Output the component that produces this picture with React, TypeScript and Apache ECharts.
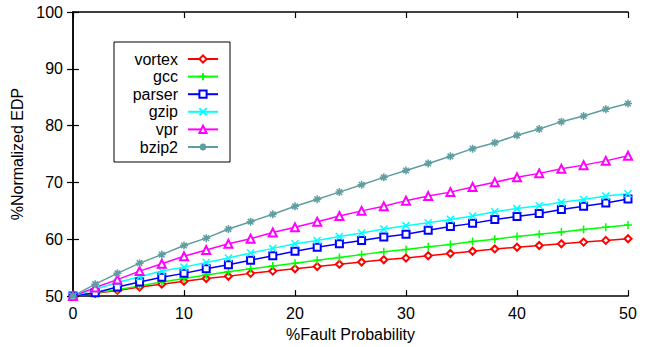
import React, { useEffect, useRef } from "react";
import * as echarts from "echarts";

const xValues = [0, 2, 4, 6, 8, 10, 12, 14, 16, 18, 20, 22, 24, 26, 28, 30, 32, 34, 36, 38, 40, 42, 44, 46, 48, 50];

const vortex = [50, 50.5, 51.0, 51.6, 52.1, 52.6, 53.1, 53.5, 54.0, 54.4, 54.8, 55.2, 55.6, 56.0, 56.4, 56.7, 57.1, 57.5, 57.9, 58.3, 58.6, 58.9, 59.2, 59.5, 59.8, 60.1];
const gcc = [50, 50.6, 51.1, 51.8, 52.5, 53.1, 53.7, 54.3, 54.8, 55.3, 55.8, 56.3, 56.8, 57.3, 57.8, 58.2, 58.7, 59.1, 59.6, 60.0, 60.5, 60.9, 61.3, 61.7, 62.1, 62.5];
const parser = [50, 50.6, 51.6, 52.5, 53.3, 54.0, 54.8, 55.5, 56.3, 57.1, 57.9, 58.6, 59.2, 59.8, 60.4, 60.9, 61.6, 62.25, 62.8, 63.5, 64.0, 64.55, 65.25, 65.8, 66.4, 67.1];
const gzip = [50, 51.2, 52.4, 53.4, 54.4, 55.1, 55.9, 56.7, 57.6, 58.4, 59.2, 59.8, 60.5, 61.1, 61.8, 62.4, 62.9, 63.5, 64.1, 64.85, 65.4, 65.9, 66.5, 67.0, 67.6, 68.0];
const vpr = [50, 51.5, 52.9, 54.4, 55.7, 57.0, 58.1, 59.2, 60.1, 61.2, 62.1, 63.1, 64.1, 65.0, 65.8, 66.8, 67.6, 68.3, 69.2, 70.05, 70.9, 71.6, 72.4, 73.05, 73.8, 74.7];
const bzip2 = [50, 52.1, 54.0, 55.8, 57.3, 58.9, 60.2, 61.8, 63.1, 64.4, 65.8, 67.05, 68.3, 69.6, 70.9, 72.1, 73.35, 74.6, 75.95, 77.0, 78.3, 79.4, 80.7, 81.7, 82.9, 83.9];

const seriesNames = ["vortex", "gcc", "parser", "gzip", "vpr", "bzip2"];
const seriesData = [vortex, gcc, parser, gzip, vpr, bzip2];
const seriesColors = ["#ff0000", "#00ff00", "#0000ff", "#00ffff", "#ff00ff", "#5f9ea0"];
const seriesSymbols = [
  "emptyDiamond",
  "path://M0,5L10,5M5,0L5,10",
  "emptyRect",
  "path://M0,0L10,10M10,0L0,10",
  "emptyTriangle",
  "path://M0,5L10,5M5,0L5,10M1.5,1.5L8.5,8.5M8.5,1.5L1.5,8.5",
];
const seriesSymbolSizes = [7, 8, 7, 7, 8, 8];

const FONT = "Liberation Sans, Arial, sans-serif";

export default function App() {
  const ref = useRef<HTMLDivElement>(null);
  useEffect(() => {
    if (!ref.current) return;
    const chart = echarts.init(ref.current, undefined, { renderer: "svg" });
    const axisLine = { show: true, lineStyle: { color: "#000", width: 1.5 } };
    const axisTick = { show: true, inside: true, length: 6, lineStyle: { color: "#000", width: 1.2 } };
    chart.setOption({
      animation: false,
      backgroundColor: "#fff",
      textStyle: { fontFamily: FONT },
      grid: { left: 73, right: 21, top: 12, bottom: 47, containLabel: false },
      legend: {
        orient: "vertical",
        left: 114,
        top: 42,
        align: "right",
        data: seriesNames,
        borderColor: "#000",
        borderWidth: 1,
        padding: [9, 11, 7, 16],
        itemGap: 1.6,
        itemWidth: 30,
        itemHeight: 9,
        textStyle: {
          fontFamily: FONT,
          fontSize: 16,
          lineHeight: 16,
          color: "#000",
          width: 48,
          align: "right",
          padding: [0, 5, 0, 0],
        },
      },
      xAxis: [
        {
          type: "value",
          min: 0,
          max: 50,
          interval: 10,
          name: "%Fault Probability",
          nameLocation: "middle",
          nameGap: 29,
          nameTextStyle: { fontFamily: FONT, fontSize: 16, color: "#000" },
          axisLine,
          axisTick,
          axisLabel: { fontFamily: FONT, fontSize: 16, color: "#000", margin: 9 },
          splitLine: { show: false },
        },
        {
          type: "value",
          position: "top",
          min: 0,
          max: 50,
          interval: 10,
          axisLine,
          axisTick,
          axisLabel: { show: false },
          splitLine: { show: false },
        },
      ],
      yAxis: [
        {
          type: "value",
          min: 50,
          max: 100,
          interval: 10,
          name: "%Normalized EDP",
          nameLocation: "middle",
          nameGap: 44,
          nameTextStyle: { fontFamily: FONT, fontSize: 16, color: "#000" },
          axisLine,
          axisTick,
          axisLabel: { fontFamily: FONT, fontSize: 16, color: "#000", margin: 10 },
          splitLine: { show: false },
        },
        {
          type: "value",
          position: "right",
          min: 50,
          max: 100,
          interval: 10,
          axisLine,
          axisTick,
          axisLabel: { show: false },
          splitLine: { show: false },
        },
      ],
      series: seriesNames.map((name, i) => ({
        name,
        type: "line",
        xAxisIndex: 0,
        yAxisIndex: 0,
        data: xValues.map((x, j) => [x, seriesData[i][j]]),
        symbol: seriesSymbols[i],
        symbolSize: seriesSymbolSizes[i],
        showSymbol: true,
        color: seriesColors[i],
        lineStyle: { color: seriesColors[i], width: 1.5 },
        itemStyle: { color: seriesColors[i], borderColor: seriesColors[i], borderWidth: 1.5 },
        emphasis: { disabled: true },
      })),
    });
    return () => chart.dispose();
  }, []);
  return <div ref={ref} style={{ width: 649, height: 347, position: "absolute", left: 0, top: 0 }} />;
}
